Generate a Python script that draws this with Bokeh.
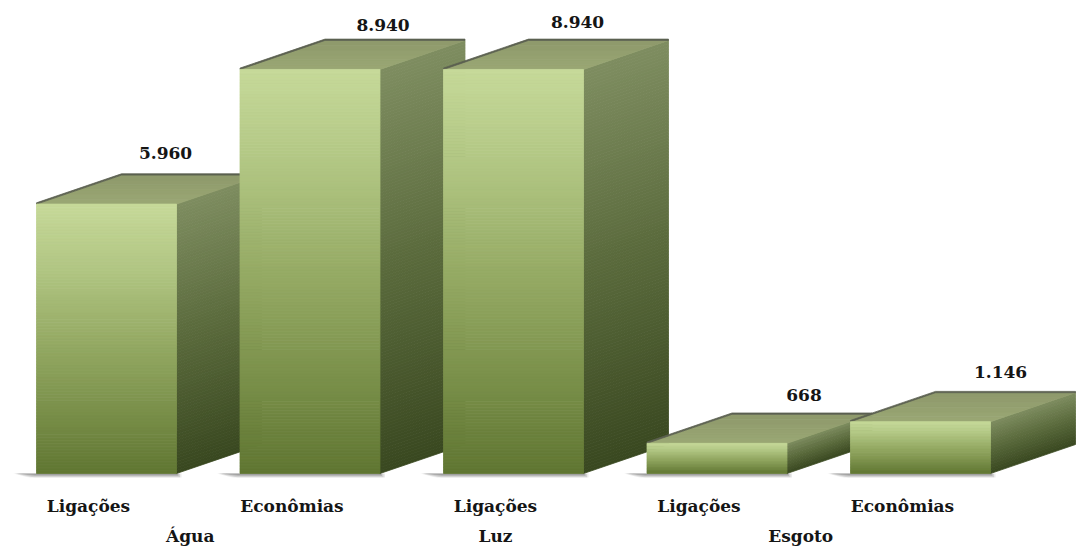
import numpy as np
from bokeh.plotting import figure
from bokeh.models import ColumnDataSource, LinearAxis, FixedTicker, Range1d
from bokeh.core.properties import value
from bokeh.embed import file_html
from bokeh.resources import INLINE

# --- data -------------------------------------------------------------
groups = ["Água", "Luz", "Esgoto"]
categories = ["Ligações", "Econômias", "Ligações", "Ligações", "Econômias"]
category_group = ["Água", "Água", "Luz", "Esgoto", "Esgoto"]
values = [5960, 8940, 8940, 668, 1146]

# --- layout / style ---------------------------------------------------
W, H = 1091, 548
BOTTOM = 71                 # room for the two label rows
BASE_PX = 473               # pixel row of the bar baseline
PX_X = 203.5                # pixels per category step
PX_Y = 0.0452               # pixels per data unit
FIRST_PX = 88               # pixel position of the first category tick
BAR_SHIFT = 18 / PX_X       # front face centre relative to its tick
HALF_W = 70 / PX_X          # half width of the front face
DEPTH_X = 85 / PX_X         # oblique depth, horizontal
DEPTH_Y = 29 / PX_Y         # oblique depth, vertical
EDGE = 1.3 / PX_Y           # thickness of the top-face rim line

# value-label nudges (pixels) from the front-face centre / back top edge
label_dx_px = [59, 73, 64, 87, 80]
label_dy_px = [22, 15, 18, 19, 21]

FONT = "DejaVu Serif"

front_stops = [(0.0, (198, 217, 153)), (0.25, (176, 197, 130)),
               (0.5, (150, 171, 101)), (0.75, (124, 146, 76)),
               (1.0, (96, 118, 50))]
side_stops = [(0.0, (126, 141, 96)), (0.5, (90, 106, 60)),
              (1.0, (57, 72, 32))]
top_stops = [(0.0, (154, 167, 116)), (1.0, (142, 153, 107))]


def shade(stops, t):
    t = min(max(t, 0.0), 1.0)
    for (t0, c0), (t1, c1) in zip(stops[:-1], stops[1:]):
        if t <= t1:
            f = 0.0 if t1 == t0 else (t - t0) / (t1 - t0)
            rgb = [round(a + (b - a) * f) for a, b in zip(c0, c1)]
            return "#%02x%02x%02x" % tuple(rgb)
    return "#%02x%02x%02x" % stops[-1][1]


frame_h = H - BOTTOM
x_start = -FIRST_PX / PX_X
x_end = x_start + W / PX_X
y_start = -(frame_h - BASE_PX) / PX_Y
y_end = y_start + frame_h / PX_Y

p = figure(width=W, height=H, output_backend="svg", toolbar_location=None,
           x_range=Range1d(x_start, x_end), y_range=Range1d(y_start, y_end),
           x_axis_type=None, y_axis_type=None,
           min_border_left=0, min_border_right=0, min_border_top=0,
           min_border_bottom=BOTTOM)
p.outline_line_color = None
p.grid.visible = False
p.background_fill_color = "white"
p.border_fill_color = "white"

# soft floor shadows
sh_xs, sh_ys, sh_alpha = [], [], []
for i, v in enumerate(values):
    xl = i + BAR_SHIFT - HALF_W
    xr = i + BAR_SHIFT + HALF_W
    for grow, a in ((5, 0.14), (3.5, 0.2), (2, 0.26), (1, 0.3)):
        sh_xs.append([xl - (18 + grow) / PX_X, xr + grow / PX_X,
                      xr + grow / PX_X, xl - 2 / PX_X])
        sh_ys.append([0, 0, -(grow + 0.5) / PX_Y, -(grow + 0.5) / PX_Y])
        sh_alpha.append(a)
p.patches(xs="xs", ys="ys", fill_color="#6e6e6e", fill_alpha="a",
          line_color=None,
          source=ColumnDataSource(dict(xs=sh_xs, ys=sh_ys, a=sh_alpha)))

# bar faces, left to right so each bar covers its neighbour's side
xs, ys, cols = [], [], []
for i, v in enumerate(values):
    xl = i + BAR_SHIFT - HALF_W
    xr = i + BAR_SHIFT + HALF_W
    n = max(10, int(v * PX_Y / 3))
    # side face
    for k in range(n):
        ya = v * (1 - k / n)
        yb = v * (1 - (k + 1) / n)
        xs.append([xr, xr + DEPTH_X, xr + DEPTH_X, xr])
        ys.append([ya, ya + DEPTH_Y, yb + DEPTH_Y, yb])
        cols.append(shade(side_stops, (k + 0.5) / n))
    # top face
    m = 6
    for k in range(m):
        fa, fb = k / m, (k + 1) / m
        xs.append([xl + DEPTH_X * fa, xr + DEPTH_X * fa,
                   xr + DEPTH_X * fb, xl + DEPTH_X * fb])
        ys.append([v + DEPTH_Y * fa, v + DEPTH_Y * fa,
                   v + DEPTH_Y * fb, v + DEPTH_Y * fb])
        cols.append(shade(top_stops, (k + 0.5) / m))
    # rim along the left and back edges of the top face
    xs.append([xl, xl + DEPTH_X, xr + DEPTH_X, xr + DEPTH_X,
               xl + DEPTH_X, xl])
    ys.append([v, v + DEPTH_Y, v + DEPTH_Y, v + DEPTH_Y + EDGE,
               v + DEPTH_Y + EDGE, v + EDGE])
    cols.append("#5c6150")
    # front face
    for k in range(n):
        ya = v * (1 - k / n)
        yb = v * (1 - (k + 1) / n)
        xs.append([xl, xr, xr, xl])
        ys.append([ya, ya, yb, yb])
        cols.append(shade(front_stops, (k + 0.5) / n))

p.patches(xs="xs", ys="ys", fill_color="c", line_color="c", line_width=0.8,
          source=ColumnDataSource(dict(xs=xs, ys=ys, c=cols)))

# value labels
lab = ColumnDataSource(dict(
    x=[i + BAR_SHIFT + dx / PX_X for i, dx in enumerate(label_dx_px)],
    y=[v + DEPTH_Y + dy / PX_Y for v, dy in zip(values, label_dy_px)],
    t=[f"{v:,}".replace(",", ".") for v in values],
))
p.text(x="x", y="y", text="t", source=lab, text_align="center",
       text_baseline="middle", text_font=value(FONT),
       text_font_style="bold", text_font_size="17px", text_color="#151515")


def label_axis(ticks, labels, standoff):
    ax = LinearAxis(ticker=FixedTicker(ticks=ticks),
                    major_label_overrides={t: s for t, s in zip(ticks, labels)})
    ax.axis_line_color = None
    ax.major_tick_line_color = None
    ax.minor_tick_line_color = None
    ax.major_tick_out = 0
    ax.major_tick_in = 0
    ax.major_label_standoff = standoff
    ax.major_label_text_font = FONT
    ax.major_label_text_font_style = "bold"
    ax.major_label_text_font_size = "17px"
    ax.major_label_text_color = "#151515"
    return ax


cat_ticks = list(range(len(categories)))
grp_ticks = [float(np.mean([i for i, g in enumerate(category_group) if g == name]))
             for name in groups]
p.add_layout(label_axis(cat_ticks, categories, 18), "below")
p.add_layout(label_axis(grp_ticks, groups, 7), "below")

open("out.html", "w").write(file_html(p, INLINE))
